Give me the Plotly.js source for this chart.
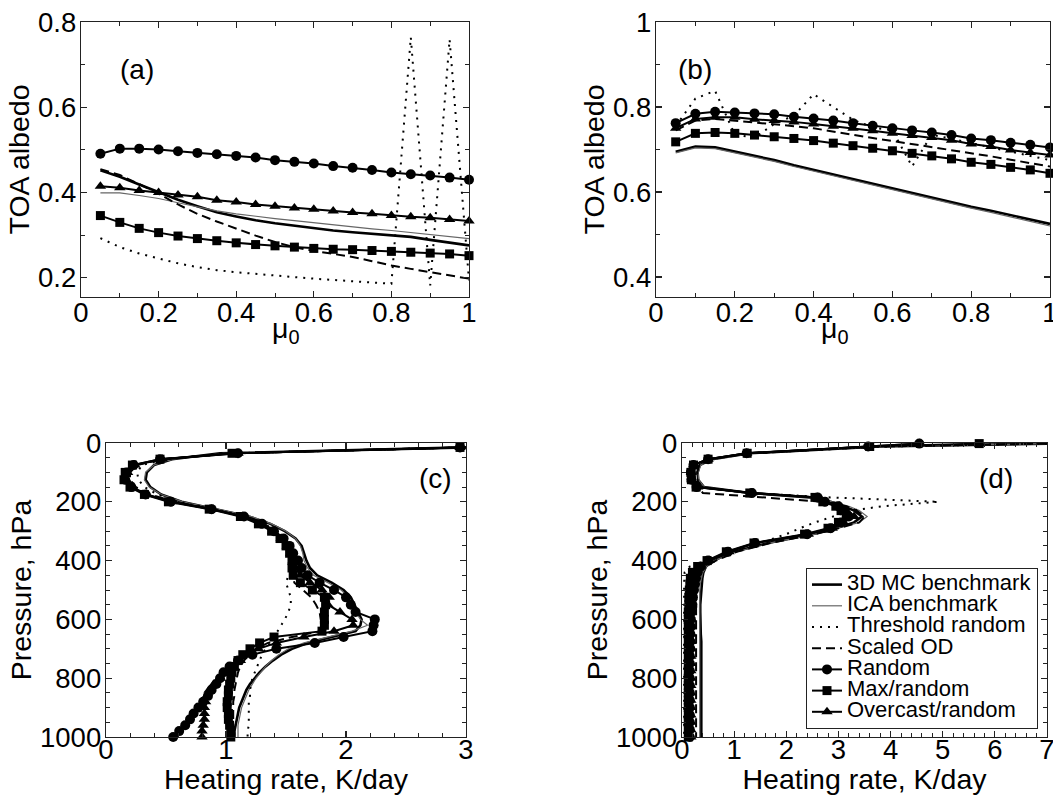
<!DOCTYPE html>
<html><head><meta charset="utf-8">
<script src="https://cdn.plot.ly/plotly-3.0.1.min.js"></script>
<style>html,body{margin:0;padding:0;background:#fff}</style>
</head><body><div id="chart" style="width:1053px;height:795px"></div>
<script>
// ---------- data ----------
const seriesNames = ['3D MC benchmark','ICA benchmark','Threshold random','Scaled OD','Random','Max/random','Overcast/random'];
const panelLabels = ['(a)','(b)','(c)','(d)'];
const muTitle = 'μ<sub>0</sub>';

const mu = [0.05,0.1,0.15,0.2,0.25,0.3,0.35,0.4,0.45,0.5,0.55,0.6,0.65,0.7,0.75,0.8,0.85,0.9,0.95,1.0];

// panel (a) TOA albedo
const a3D     = [0.452,0.437,0.419,0.401,0.383,0.368,0.354,0.344,0.335,0.328,0.322,0.317,0.311,0.307,0.303,0.299,0.296,0.289,0.282,0.276];
const aICA    = [0.399,0.399,0.393,0.386,0.376,0.366,0.357,0.350,0.344,0.339,0.334,0.329,0.324,0.319,0.315,0.311,0.306,0.302,0.297,0.292];
const aThr    = [0.293,0.272,0.257,0.245,0.234,0.225,0.218,0.213,0.209,0.205,0.201,0.198,0.195,0.192,0.189,0.186,0.764,0.182,0.759,0.194];
const aScaled = [0.455,0.441,0.420,0.397,0.372,0.350,0.332,0.315,0.299,0.284,0.272,0.263,0.256,0.249,0.239,0.229,0.221,0.213,0.205,0.198];
const aRandom = [0.491,0.503,0.503,0.501,0.497,0.493,0.490,0.486,0.482,0.476,0.472,0.468,0.462,0.458,0.453,0.447,0.443,0.440,0.435,0.430];
const aMax    = [0.346,0.330,0.316,0.306,0.298,0.292,0.287,0.282,0.278,0.275,0.272,0.269,0.267,0.266,0.264,0.262,0.260,0.258,0.256,0.252];
const aOver   = [0.415,0.411,0.405,0.400,0.394,0.390,0.382,0.378,0.372,0.368,0.364,0.361,0.357,0.353,0.350,0.346,0.343,0.341,0.337,0.333];

// panel (b) TOA albedo
const b3D     = [0.695,0.707,0.705,0.695,0.685,0.675,0.663,0.652,0.641,0.631,0.620,0.609,0.598,0.587,0.576,0.565,0.556,0.546,0.535,0.525];
const bICA    = [0.692,0.704,0.702,0.692,0.682,0.672,0.660,0.649,0.638,0.628,0.617,0.606,0.595,0.584,0.573,0.562,0.552,0.542,0.531,0.520];
const bThr    = [0.755,0.820,0.838,0.735,0.728,0.760,0.780,0.830,0.800,0.770,0.752,0.745,0.660,0.735,0.725,0.715,0.705,0.695,0.685,0.675];
const bScaled = [0.745,0.768,0.772,0.768,0.764,0.760,0.755,0.750,0.742,0.734,0.727,0.720,0.713,0.706,0.699,0.692,0.684,0.676,0.668,0.660];
const bRandom = [0.762,0.784,0.789,0.787,0.785,0.783,0.777,0.773,0.768,0.762,0.756,0.750,0.745,0.740,0.734,0.726,0.722,0.716,0.711,0.705];
const bMax    = [0.718,0.738,0.740,0.738,0.734,0.730,0.726,0.721,0.715,0.709,0.703,0.697,0.691,0.685,0.678,0.670,0.665,0.658,0.652,0.644];
const bOver   = [0.750,0.772,0.776,0.776,0.771,0.768,0.765,0.760,0.755,0.750,0.744,0.738,0.733,0.728,0.722,0.713,0.707,0.699,0.693,0.687];

// panel (c) heating rate profiles, pressure levels (hPa)
const pC = [15,35,55,75,100,125,150,175,200,225,250,275,300,325,350,375,400,425,450,475,500,525,550,575,600,620,640,660,680,700,720,740,760,780,800,820,840,860,880,900,920,940,960,980,1000];
const c3D     = [3.0,0.95,0.55,0.40,0.34,0.33,0.37,0.46,0.63,0.92,1.19,1.37,1.49,1.58,1.63,1.65,1.67,1.70,1.76,1.88,1.98,2.04,2.07,2.10,2.13,2.12,2.08,1.88,1.68,1.55,1.46,1.39,1.33,1.28,1.24,1.20,1.17,1.15,1.13,1.11,1.10,1.09,1.08,1.07,1.07];
const cICA    = [3.0,0.98,0.56,0.40,0.33,0.32,0.36,0.46,0.64,0.94,1.21,1.38,1.50,1.58,1.62,1.64,1.65,1.68,1.73,1.85,1.96,2.02,2.05,2.08,2.12,2.18,2.05,1.85,1.65,1.52,1.44,1.38,1.33,1.29,1.25,1.22,1.19,1.17,1.15,1.13,1.12,1.11,1.10,1.10,1.10];
const cThr    = [3.0,1.05,0.50,0.30,0.26,0.27,0.32,0.43,0.60,0.90,1.16,1.32,1.42,1.49,1.53,1.55,1.55,1.54,1.52,1.50,1.52,1.54,1.54,1.52,1.49,1.46,1.43,1.40,1.37,1.33,1.30,1.28,1.26,1.24,1.22,1.21,1.20,1.20,1.19,1.19,1.19,1.19,1.19,1.18,1.18];
const cScaled = [3.0,1.05,0.47,0.26,0.20,0.20,0.25,0.37,0.57,0.89,1.15,1.31,1.41,1.48,1.52,1.54,1.55,1.55,1.55,1.57,1.64,1.71,1.75,1.78,1.79,1.80,1.79,1.55,1.35,1.25,1.19,1.15,1.12,1.10,1.09,1.08,1.07,1.07,1.06,1.06,1.06,1.06,1.06,1.06,1.06];
const cRandom = [2.95,1.10,0.45,0.23,0.17,0.16,0.21,0.33,0.54,0.88,1.15,1.30,1.40,1.48,1.53,1.56,1.60,1.63,1.68,1.78,1.90,2.00,2.04,2.08,2.24,2.23,2.22,1.98,1.74,1.42,1.22,1.10,1.03,0.98,0.95,0.92,0.88,0.85,0.81,0.77,0.73,0.70,0.66,0.61,0.56];
const cMax    = [2.95,1.05,0.45,0.22,0.16,0.15,0.20,0.32,0.52,0.86,1.12,1.27,1.38,1.45,1.50,1.53,1.55,1.55,1.56,1.62,1.72,1.82,1.83,1.82,1.82,1.82,1.80,1.40,1.28,1.20,1.14,1.10,1.07,1.05,1.04,1.03,1.02,1.02,1.01,1.01,1.02,1.02,1.03,1.04,1.04];
const cOver   = [2.95,1.10,0.47,0.24,0.18,0.17,0.22,0.34,0.55,0.88,1.14,1.29,1.39,1.46,1.51,1.54,1.56,1.58,1.62,1.70,1.80,1.86,1.85,1.95,2.05,2.06,1.90,1.65,1.42,1.27,1.18,1.12,1.06,1.00,0.95,0.90,0.86,0.84,0.83,0.82,0.82,0.82,0.81,0.80,0.80];

// panel (d) heating rate profiles, pressure levels (hPa)
const pD = [2,12,35,55,75,100,125,150,170,185,200,215,230,250,270,290,310,340,370,400,420,440,460,480,500,525,550,575,600,625,650,675,700,725,750,775,800,825,850,875,900,925,950,975,1000];
const d3D     = [7.0,3.8,1.30,0.58,0.34,0.30,0.31,0.42,1.30,2.45,2.85,3.10,3.30,3.45,3.30,2.95,2.50,1.65,1.00,0.60,0.46,0.41,0.39,0.38,0.37,0.36,0.35,0.35,0.35,0.36,0.36,0.37,0.37,0.37,0.38,0.38,0.38,0.38,0.38,0.37,0.37,0.37,0.37,0.37,0.37];
const dICA    = [7.0,3.8,1.32,0.60,0.36,0.31,0.32,0.43,1.25,2.40,2.90,3.20,3.40,3.55,3.40,3.00,2.55,1.70,1.05,0.62,0.47,0.40,0.37,0.35,0.34,0.34,0.33,0.33,0.33,0.33,0.34,0.34,0.34,0.34,0.34,0.34,0.34,0.34,0.34,0.34,0.34,0.34,0.34,0.34,0.34];
const dThr    = [7.0,3.8,1.30,0.55,0.30,0.25,0.26,0.35,1.30,2.85,4.92,3.85,3.25,2.90,2.55,2.26,2.00,1.50,0.95,0.45,0.15,0.05,0.04,0.04,0.04,0.04,0.04,0.04,0.04,0.04,0.04,0.04,0.04,0.04,0.04,0.04,0.04,0.04,0.04,0.04,0.04,0.04,0.04,0.04,0.04];
const dScaled = [7.0,3.8,1.30,0.56,0.33,0.29,0.30,0.31,0.40,1.50,2.70,3.15,3.35,3.50,3.40,3.00,2.55,1.70,1.05,0.65,0.45,0.35,0.30,0.28,0.27,0.27,0.27,0.27,0.27,0.27,0.27,0.27,0.27,0.27,0.27,0.27,0.27,0.27,0.27,0.27,0.27,0.27,0.27,0.27,0.27];
const dRandom = [4.55,3.57,1.24,0.50,0.22,0.17,0.18,0.28,1.34,2.60,2.74,3.00,3.10,3.20,3.05,2.85,2.40,1.40,0.88,0.50,0.36,0.30,0.27,0.25,0.23,0.21,0.20,0.18,0.17,0.17,0.16,0.16,0.16,0.15,0.15,0.15,0.15,0.15,0.15,0.15,0.15,0.15,0.15,0.15,0.15];
const dMax    = [5.7,3.60,1.25,0.50,0.22,0.17,0.18,0.27,1.30,2.55,2.70,2.95,3.05,3.15,3.00,2.80,2.35,1.38,0.85,0.48,0.30,0.20,0.16,0.15,0.14,0.13,0.13,0.12,0.12,0.12,0.12,0.12,0.12,0.12,0.12,0.12,0.12,0.12,0.12,0.12,0.12,0.12,0.12,0.12,0.12];
const dOver   = [4.55,3.57,1.24,0.50,0.22,0.18,0.19,0.30,1.34,2.60,2.75,3.02,3.15,3.30,3.10,2.88,2.42,1.42,0.90,0.52,0.35,0.27,0.23,0.21,0.20,0.19,0.19,0.18,0.18,0.18,0.18,0.18,0.17,0.17,0.17,0.17,0.17,0.17,0.17,0.17,0.17,0.17,0.17,0.17,0.17];

// ---------- styles ----------
const FONT = '"Liberation Sans", Arial, Helvetica, sans-serif';
const styles = [
  {mode:'lines', line:{color:'#000', width:2.6}},
  {mode:'lines', line:{color:'#666', width:1.2}},
  {mode:'lines', line:{color:'#000', width:2, dash:'2px,6px'}},
  {mode:'lines', line:{color:'#000', width:2, dash:'9px,5px'}},
  {mode:'lines+markers', line:{color:'#000', width:2}, marker:{symbol:'circle', size:10, color:'#000'}},
  {mode:'lines+markers', line:{color:'#000', width:2}, marker:{symbol:'square', size:9, color:'#000'}},
  {mode:'lines+markers', line:{color:'#000', width:2}, marker:{symbol:'triangle-up', size:10, color:'#000'}}
];

const panelA = [a3D,aICA,aThr,aScaled,aRandom,aMax,aOver];
const panelB = [b3D,bICA,bThr,bScaled,bRandom,bMax,bOver];
const panelC = [c3D,cICA,cThr,cScaled,cRandom,cMax,cOver];
const panelD = [d3D,dICA,dThr,dScaled,dRandom,dMax,dOver];

const traces = [];
function addPanel(series, xs, ys, xa, ya, horizontal, legend) {
  series.forEach((vals, i) => {
    const t = Object.assign({type:'scatter', name:'<span style="font-size:22px">'+seriesNames[i]+'</span>',
      xaxis:xa, yaxis:ya, showlegend:legend, cliponaxis:false, legendgroup:'s'+i}, JSON.parse(JSON.stringify(styles[i])));
    if (horizontal) { t.x = xs; t.y = vals; } else { t.x = vals; t.y = ys; }
    traces.push(t);
  });
}
addPanel(panelA, mu, null, 'x', 'y', true, true);
addPanel(panelB, mu, null, 'x2', 'y2', true, false);
addPanel(panelC, null, pC, 'x3', 'y3', false, false);
addPanel(panelD, null, pD, 'x4', 'y4', false, false);

const W = 1053, H = 795;
function px(x) { return x / W; }
function py(y) { return 1 - y / H; }

function axis(domain, range, dtick, minor, anchor, title, extra) {
  return Object.assign({
    domain: domain, range: range, tick0: 0, dtick: dtick, anchor: anchor,
    showline: true, linecolor: '#222', linewidth: 1.3, mirror: 'ticks',
    ticks: 'inside', ticklen: 6, tickwidth: 1.2, tickcolor: '#222',
    minor: {dtick: minor, tick0: 0, ticks: 'inside', ticklen: 4, tickwidth: 1, tickcolor: '#222', showgrid:false},
    showgrid: false, zeroline: false, ticklabeloverflow: 'allow',
    tickfont: {family: FONT, size: 27.5, color: '#000'},
    title: {text: title, font: {family: FONT, size: 28.5, color: '#000'}, standoff: 0}
  }, extra || {});
}

const annFont = {family:FONT, size:28, color:'#000'};
const layout = {
  width: W, height: H, margin: {l:0, r:0, t:0, b:0},
  paper_bgcolor: '#fff', plot_bgcolor: '#fff',
  font: {family: FONT, color: '#000'},
  xaxis:  axis([px(81), px(469)], [0, 1], 0.2, 0.1, 'y', '', {ticklabelstandoff: -9}),
  yaxis:  axis([py(297), py(22)], [0.155, 0.8], 0.2, 0.1, 'x', 'TOA albedo', {ticklabelstandoff: -2}),
  xaxis2: axis([px(656), px(1050)], [0, 1], 0.2, 0.1, 'y2', '', {ticklabelstandoff: -9}),
  yaxis2: axis([py(297), py(22)], [0.353, 1.0], 0.2, 0.1, 'x2', 'TOA albedo', {ticklabelstandoff: -2}),
  xaxis3: axis([px(106), px(466)], [0, 3], 1, 0.2, 'y3', 'Heating rate, K/day', {ticklabelstandoff: -12}),
  yaxis3: axis([py(737), py(443)], [1000, 0], 200, 50, 'x3', 'Pressure, hPa', {ticklabelstandoff: -2}),
  xaxis4: axis([px(682), px(1047)], [0, 7], 1, 0.2, 'y4', 'Heating rate, K/day', {ticklabelstandoff: -12}),
  yaxis4: axis([py(737), py(443)], [1000, 0], 200, 50, 'x4', 'Pressure, hPa', {ticklabelstandoff: -2}),
  showlegend: true,
  legend: {x: px(1038), xanchor: 'right', y: py(568), yanchor: 'top',
    bgcolor: '#fff', bordercolor: '#222', borderwidth: 1,
    font: {family: FONT, size: 14, color: '#000'}, itemwidth: 30, tracegroupgap: 0},
  annotations: [
    {text: panelLabels[0], x: px(118), y: py(52), xref:'paper', yref:'paper', showarrow:false, font:annFont},
    {text: panelLabels[1], x: px(695), y: py(52), xref:'paper', yref:'paper', showarrow:false, font:annFont},
    {text: panelLabels[2], x: px(435), y: py(478), xref:'paper', yref:'paper', showarrow:false, font:annFont},
    {text: panelLabels[3], x: px(1015), y: py(478), xref:'paper', yref:'paper', showarrow:false, font:annFont},
    {text: muTitle, x: px(270), y: py(330), xref:'paper', yref:'paper', showarrow:false, font:{family:FONT, size:28.5, color:'#000'}},
    {text: muTitle, x: px(851), y: py(330), xref:'paper', yref:'paper', showarrow:false, font:{family:FONT, size:28.5, color:'#000'}}
  ]
};

Plotly.newPlot('chart', traces, layout, {displayModeBar: false, staticPlot: true});
</script>
</body></html>
